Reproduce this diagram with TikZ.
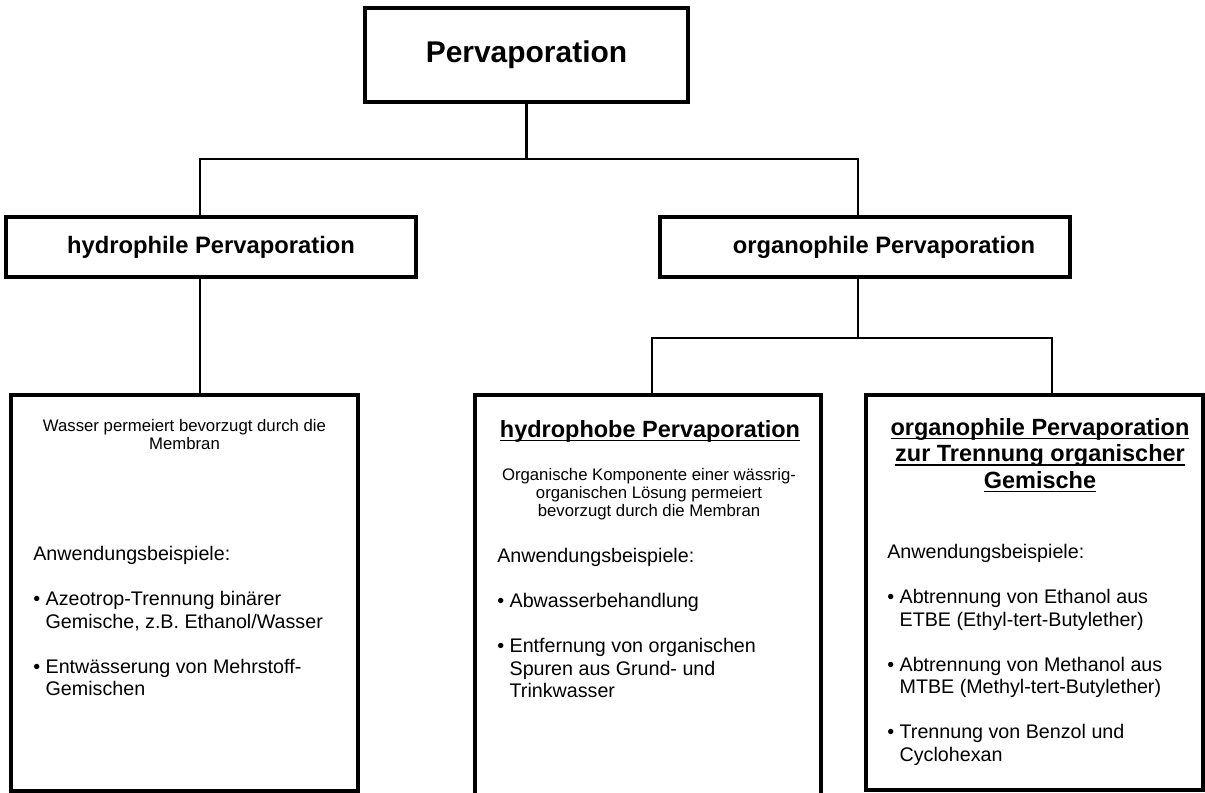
\documentclass[tikz,border=0pt]{standalone}
\usepackage{fontspec}
\setmainfont{Liberation Sans}
\usepackage{tikz}
\usetikzlibrary{positioning}
\tikzstyle{box} = [draw, rectangle, line width=3pt, inner sep=0pt]
\tikzstyle{panel} = [draw, rectangle, line width=3.2pt, inner sep=0pt]
\tikzstyle{link} = [line width=1.5pt]
\tikzstyle{desc} = [inner sep=0pt, align=center, anchor=north, font=\fontsize{11.9}{13}\selectfont]
\tikzstyle{title} = [inner sep=0pt, align=center, anchor=north, font=\fontsize{16.7}{18.9}\selectfont\bfseries]
\tikzstyle{usage} = [inner sep=0pt, align=left, anchor=north west, font=\fontsize{14}{16}\selectfont]
\newcommand{\bul}{\textbullet\ }
\newcommand{\bulcont}{\hphantom{\textbullet\ }}
\newcommand{\ulin}[1]{\setbox0\hbox{#1}\rlap{\rule[-2.6pt]{\wd0}{1pt}}\box0}

\begin{document}
\begin{tikzpicture}[x=0.025cm, y=-0.025cm]
            \clip (0,0) rectangle (1205,793);
            \node[box, minimum width=8.075cm, minimum height=2.35cm, font=\fontsize{21.3}{24}\selectfont\bfseries] (perv) at (526.5,55) {Pervaporation};
            \node[box, minimum width=10.25cm, minimum height=1.5cm, font=\fontsize{16.9}{19}\selectfont\bfseries] (hydro) at (211,247) {hydrophile Pervaporation};
            \node[box, minimum width=10.25cm, minimum height=1.5cm, font=\fontsize{16.9}{19}\selectfont\bfseries] (organo) at (865,247) {\hspace*{27pt}organophile Pervaporation};

            \node[panel, minimum width=8.675cm, minimum height=9.9cm] (hydrobox) at (184.5,593) {};
            \node[panel, minimum width=8.65cm, minimum height=10.5cm] (phobbox) at (648,605) {};
            \node[panel, minimum width=8.425cm, minimum height=9.875cm] (orgbox) at (1034.5,592.5) {};

            \coordinate (j1) at (200,159);
            \coordinate (j2) at (858,159);
            \coordinate (j3) at (652,338);
            \coordinate (j4) at (1052,338);
            \coordinate (j5) at (858,338);

            \draw[link] (perv.south) -- (perv.south |- j1);
            \draw[link] (hydro.north -| j1) -- (j1) -- (j2) -- (organo.north -| j2);
            \draw[link] (hydro.south -| j1) -- (hydrobox.north -| j1);
            \draw[link] (organo.south -| j5) -- (j5);
            \draw[link] (phobbox.north -| j3) -- (j3) -- (j4) -- (orgbox.north -| j4);

            \node[desc] (hydrotxt) at (184.5,419) {Wasser permeiert bevorzugt durch die\\Membran};
            \node[usage] (hydrouse) at (33,546) {Anwendungsbeispiele:\\[16pt]\bul Azeotrop-Trennung binärer\\\bulcont Gemische, z.B. Ethanol/Wasser\\[16pt]\bul Entwässerung von Mehrstoff-\\\bulcont Gemischen};

            \node[title] (phobtitle) at (650,420) {\ulin{hydrophobe Pervaporation}};
            \node[desc] (phobtxt) at (649,468) {Organische Komponente einer wässrig-\\organischen Lösung permeiert\\bevorzugt durch die Membran};
            \node[usage] (phobuse) at (497,548) {Anwendungsbeispiele:\\[16pt]\bul Abwasserbehandlung\\[16pt]\bul Entfernung von organischen\\\bulcont Spuren aus Grund- und\\\bulcont Trinkwasser};

            \node[title] (orgtitle) at (1040,418) {\ulin{organophile Pervaporation}\\\ulin{zur Trennung organischer}\\\ulin{Gemische}};
            \node[usage] (orguse) at (887,544) {Anwendungsbeispiele:\\[16pt]\bul Abtrennung von Ethanol aus\\\bulcont ETBE (Ethyl-tert-Butylether)\\[16pt]\bul Abtrennung von Methanol aus\\\bulcont MTBE (Methyl-tert-Butylether)\\[16pt]\bul Trennung von Benzol und\\\bulcont Cyclohexan};
            \end{tikzpicture}
\end{document}
